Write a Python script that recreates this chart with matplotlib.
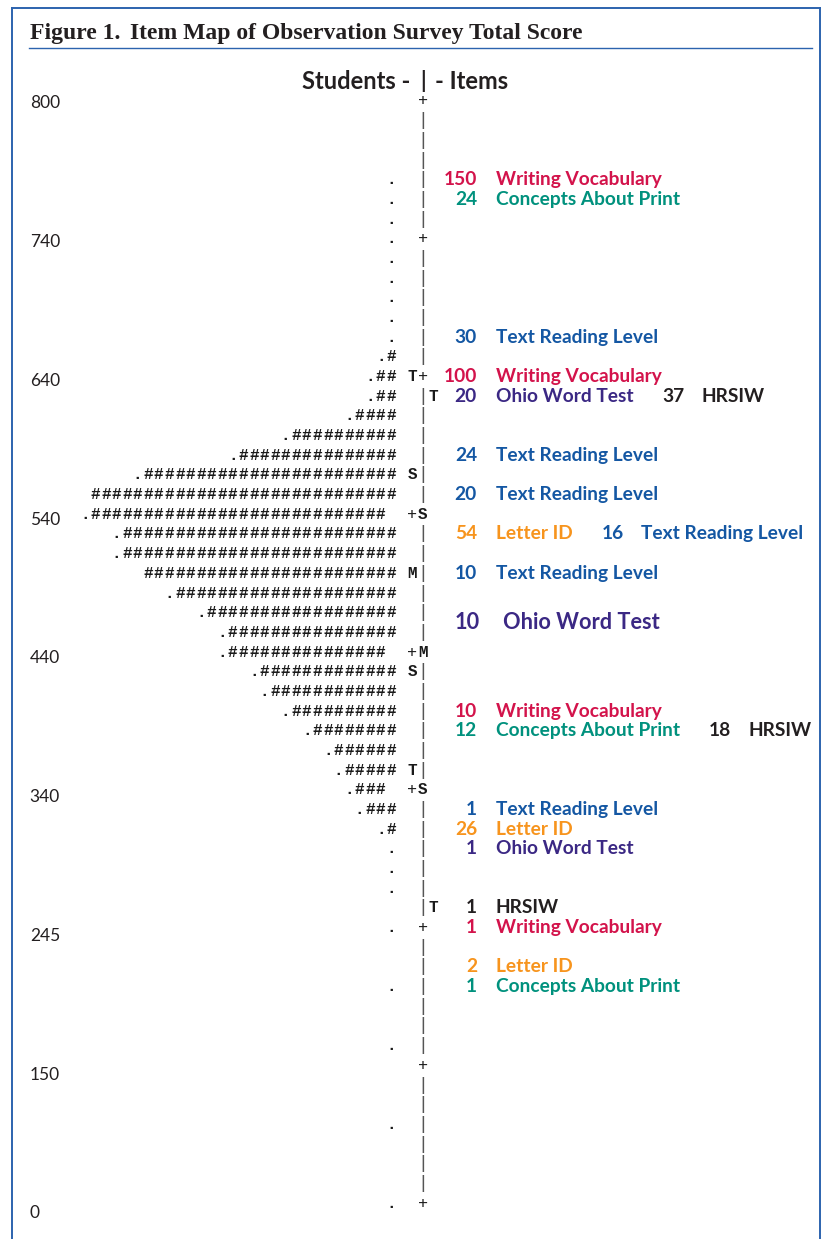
import matplotlib
matplotlib.use("Agg")
import matplotlib.pyplot as plt
from matplotlib.lines import Line2D

W, H = 829, 1239

# measure printed down the left, one label every 7 rows of the map
scale_labels = [800, 740, 640, 540, 440, 340, 245, 150, 0]

# students side: leading '.' and number of '#' on each row, top row first
student_dots = [0, 0, 0, 0, 1, 1, 1, 1, 1, 1,
                1, 1, 1, 1, 1, 1, 1, 1, 1, 1,
                0, 1, 1, 1, 0, 1, 1, 1, 1, 1,
                1, 1, 1, 1, 1, 1, 1, 1, 1, 1,
                1, 0, 1, 0, 0, 1, 0, 0, 1, 0,
                0, 0, 1, 0, 0, 0, 1]
student_hashes = [0, 0, 0, 0, 0, 0, 0, 0, 0, 0,
                  0, 0, 0, 1, 2, 2, 4, 10, 15, 24,
                  29, 28, 26, 26, 24, 21, 18, 16, 15, 13,
                  12, 10, 8, 6, 5, 3, 3, 1, 0, 0,
                  0, 0, 0, 0, 0, 0, 0, 0, 0, 0,
                  0, 0, 0, 0, 0, 0, 0]

# M/S/T markers and the '+' ticks on the line (marker column, line column)
student_marks = {0: ' +', 7: ' +', 14: 'T+', 19: 'S|', 21: '+S', 24: 'M|',
                 28: '+M', 29: 'S|', 34: 'T|', 35: '+S', 42: ' +', 49: ' +',
                 56: ' +'}
item_marks = {15: 'T', 41: 'T'}

# items side
item_rows = [4, 5, 12, 14, 15, 18, 20, 22, 24, 26.5,
             31, 32, 36, 37, 38, 41, 42, 44, 45]
item_counts = [150, 24, 30, 100, 20, 24, 20, 54, 10, 10,
               10, 12, 1, 26, 1, 1, 1, 2, 1]
item_names = ['Writing Vocabulary', 'Concepts About Print', 'Text Reading Level',
              'Writing Vocabulary', 'Ohio Word Test', 'Text Reading Level',
              'Text Reading Level', 'Letter ID', 'Text Reading Level',
              'Ohio Word Test', 'Writing Vocabulary', 'Concepts About Print',
              'Text Reading Level', 'Letter ID', 'Ohio Word Test', 'HRSIW',
              'Writing Vocabulary', 'Letter ID', 'Concepts About Print']
# second item printed on the same row
extra_rows = [15, 22, 32]
extra_counts = [37, 16, 18]
extra_names = ['HRSIW', 'Text Reading Level', 'HRSIW']

item_colors = {
    'Writing Vocabulary': '#D3134B',
    'Concepts About Print': '#00917D',
    'Text Reading Level': '#1457A3',
    'Ohio Word Test': '#3B2884',
    'HRSIW': '#231F20',
    'Letter ID': '#F7941D',
}

AXIS_X, PITCH = 423, 10.57   # px of the line column, px per character
TOP, ROW_H = 101, 19.68      # px of the first row, px per row
BLUE = '#2C63AE'
SANS = 'Lato'

fig = plt.figure(figsize=(W / 100, H / 100), dpi=100)
ax = fig.add_axes([0, 0, 1, 1])
ax.set_xlim(-AXIS_X / PITCH, (W - AXIS_X) / PITCH)
ax.set_ylim((H - TOP) / ROW_H, -TOP / ROW_H)
ax.axis('off')

mono = dict(family='Liberation Mono', ha='center', va='center')

# student distribution, one character per column, right to left from the line
for r in range(len(student_hashes)):
    tail = student_marks.get(r, ' |')
    end = 4 if tail[0] == '+' else 3
    chars = '.' * student_dots[r] + '#' * student_hashes[r]
    for i, ch in enumerate(reversed(chars)):
        ax.text(-(end + i), r, ch, fontsize=11.5, weight='bold',
                color='#1a1a1a', **mono)
    for k, ch in zip((1, 0), tail):
        if ch == ' ':
            continue
        if ch == '|':
            ax.text(-k, r, ch, fontsize=13, color='#555555', **mono)
        elif ch == '+':
            ax.text(-k, r, ch, fontsize=12, color='#1a1a1a', **mono)
        else:
            ax.text(-k, r, ch, fontsize=11.5, weight='bold', color='#1a1a1a', **mono)
for r, ch in item_marks.items():
    ax.text(1, r, ch, fontsize=11.5, weight='bold', color='#1a1a1a', **mono)

# scale labels (printed slightly below each '+', drifting down the page)
for i, v in enumerate(scale_labels):
    ax.text(-37.2, i * 7.05 + 0.12, str(v), ha='left', va='center',
            family=SANS, fontsize=12.5, color='#231F20')

# header over the line
hdr = dict(family=SANS, weight='bold', fontsize=17, color='#231F20', va='center')
ax.text(-1.23, -0.98, 'Students -', ha='right', **hdr)
ax.text(0, -1.0, '|', ha='center', **dict(hdr, fontsize=15.5))
ax.text(1.14, -0.98, '- Items', ha='left', **hdr)


def item_label(anchor, count, name, size, num_gap, name_gap):
    style = dict(family=SANS, weight='bold', fontsize=size,
                 color=item_colors[name], va='center')
    if isinstance(anchor, tuple):
        num = ax.text(anchor[0], anchor[1], str(count), ha='right', **style)
    else:
        num = ax.annotate(str(count), xy=(1, 0.5), xycoords=anchor,
                          xytext=(num_gap, 0), textcoords='offset points',
                          ha='left', **style)
    return ax.annotate(name, xy=(1, 0.5), xycoords=num,
                       xytext=(name_gap, 0), textcoords='offset points',
                       ha='left', **style)


last_name = {}
for r, c, n in zip(item_rows, item_counts, item_names):
    if r == 26.5:
        t = item_label((5.39, r), c, n, 15.7, 0, 16.5)
    else:
        t = item_label((5.1, r), c, n, 13.8, 0, 13.7)
    last_name[r] = t
for r, c, n in zip(extra_rows, extra_counts, extra_names):
    item_label(last_name[r], c, n, 13.8, 21.0, 12.3)


# frame and figure caption
def fx(x):
    return x / W


def fy(y):
    return 1 - y / H


for xs, ys, lw in [([12, 12], [8, H], 1.4), ([12, 820], [8, 8], 1.4),
                   ([820, 820], [8, H], 1.4), ([29, 812], [48, 48], 1.0)]:
    fig.add_artist(Line2D([fx(x) for x in xs], [fy(y) for y in ys],
                          color=BLUE, lw=lw))
cap = dict(family='Liberation Serif', weight='bold', fontsize=17,
           color='#231F20', va='center')
fig.text(fx(30), fy(34), 'Figure 1.', ha='left', **cap)
fig.text(fx(130), fy(34), 'Item Map of Observation Survey Total Score', ha='left', **cap)

fig.savefig('out.png', dpi=100)
